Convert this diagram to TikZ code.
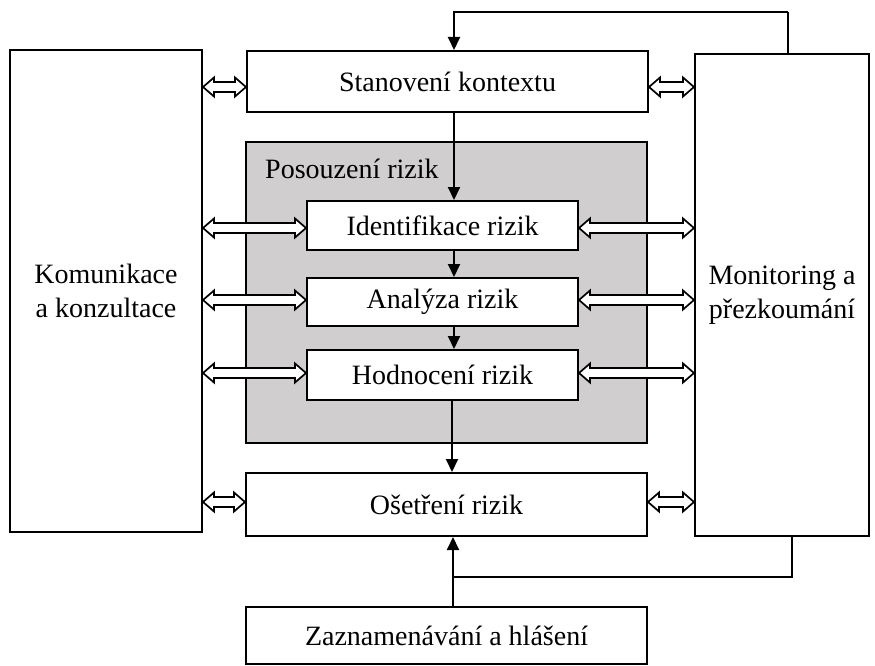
\documentclass[tikz,border=0pt]{standalone}
\usepackage{fontspec}
\setmainfont{Liberation Serif}
\usetikzlibrary{arrows.meta,calc}
\definecolor{graybox}{RGB}{208,206,206}
\tikzset{
  box/.style={draw=black, line width=2pt, fill=white, inner sep=0pt, align=center,
    font=\fontsize{28}{34}\selectfont},
  tip/.style={line width=2pt, -{Triangle[length=13pt,width=12pt]}},
  link/.style={line width=2pt},
  dblshape/.style={draw=black, fill=white, line width=1.7pt, line join=miter},
}
\newcommand\dblarr[2]{\draw[dblshape] (#1) -- ++(11,-9.5) -- ++(0,4.5) -- ($(#2)+(-11,-5)$) -- ++(0,-4.5) -- (#2) -- ++(-11,9.5) -- ++(0,-4.5) -- ($(#1)+(11,5)$) -- ++(0,4.5) -- cycle;}
\begin{document}
\begin{tikzpicture}[x=1pt,y=-1pt]
\useasboundingbox (0,0) rectangle (875,666);
% grey assessment area
\node[box, fill=graybox, minimum width=401pt, minimum height=301pt] (gray) at (446.5,292.5) {};
\node[anchor=base west, inner sep=0pt, font=\fontsize{28}{34}\selectfont] (poslabel) at (265,178) {Posouzení rizik};
% side boxes
\node[box, minimum width=192pt, minimum height=482pt] (kom) at (106,291) {Komunikace\\a konzultace};
\node[box, minimum width=174pt, minimum height=482pt] (mon) at (782,295) {Monitoring a\\přezkoumání};
% process boxes
\node[box, minimum width=401pt, minimum height=61pt] (stan) at (447.5,81.5) {Stanovení kontextu};
\node[box, minimum width=271pt, minimum height=49pt] (ident) at (442.5,225.5) {Identifikace rizik};
\node[box, minimum width=271pt, minimum height=48pt] (anal) at (442.5,302) {Analýza rizik};
\node[box, minimum width=271pt, minimum height=50pt] (hodn) at (442.5,375) {Hodnocení rizik};
\node[box, minimum width=401pt, minimum height=63pt] (oset) at (446.5,504.5) {Ošetření rizik};
\node[box, minimum width=401pt, minimum height=57pt] (zazn) at (446.5,635.5) {Zaznamenávání a hlášení};
% helper coordinates
\coordinate (t1) at (788,12);
\coordinate (t2) at (454,12);
\coordinate (b1) at (792,577);
\coordinate (b2) at (453,577);
% feedback loops
\draw[link] (t1 |- mon.north) -- (t1);
\draw[tip] (t1) -- (t2) -- (t2 |- stan.north);
\draw[link] (b1 |- mon.south) -- (b1) -- (b2);
\draw[tip] (b2 |- zazn.north) -- (b2 |- oset.south);
% main flow
\draw[tip] (t2 |- stan.south) -- (t2 |- ident.north);
\draw[tip] (t2 |- ident.south) -- (t2 |- anal.north);
\draw[tip] (t2 |- anal.south) -- (t2 |- hodn.north);
\draw[tip] (452,400) -- (oset.north -| 452,0);
% end points of the double arrows
\coordinate (kl1) at (kom.east |- 0,87);   \coordinate (sl) at (stan.west |- 0,87);
\coordinate (kl2) at (kom.east |- 0,228);  \coordinate (il) at (ident.west |- 0,228);
\coordinate (kl3) at (kom.east |- 0,300);  \coordinate (al) at (anal.west |- 0,300);
\coordinate (kl4) at (kom.east |- 0,373);  \coordinate (hl) at (hodn.west |- 0,373);
\coordinate (kl5) at (kom.east |- 0,502);  \coordinate (ol) at (oset.west |- 0,502);
\coordinate (sr) at (stan.east |- 0,87);   \coordinate (mr1) at (mon.west |- 0,87);
\coordinate (ir) at (ident.east |- 0,228); \coordinate (mr2) at (mon.west |- 0,228);
\coordinate (ar) at (anal.east |- 0,300);  \coordinate (mr3) at (mon.west |- 0,300);
\coordinate (hr) at (hodn.east |- 0,373);  \coordinate (mr4) at (mon.west |- 0,373);
\coordinate (or) at (oset.east |- 0,502);  \coordinate (mr5) at (mon.west |- 0,502);
% double arrows left
\dblarr{kl1}{sl}
\dblarr{kl2}{il}
\dblarr{kl3}{al}
\dblarr{kl4}{hl}
\dblarr{kl5}{ol}
% double arrows right
\dblarr{sr}{mr1}
\dblarr{ir}{mr2}
\dblarr{ar}{mr3}
\dblarr{hr}{mr4}
\dblarr{or}{mr5}
\end{tikzpicture}
\end{document}
